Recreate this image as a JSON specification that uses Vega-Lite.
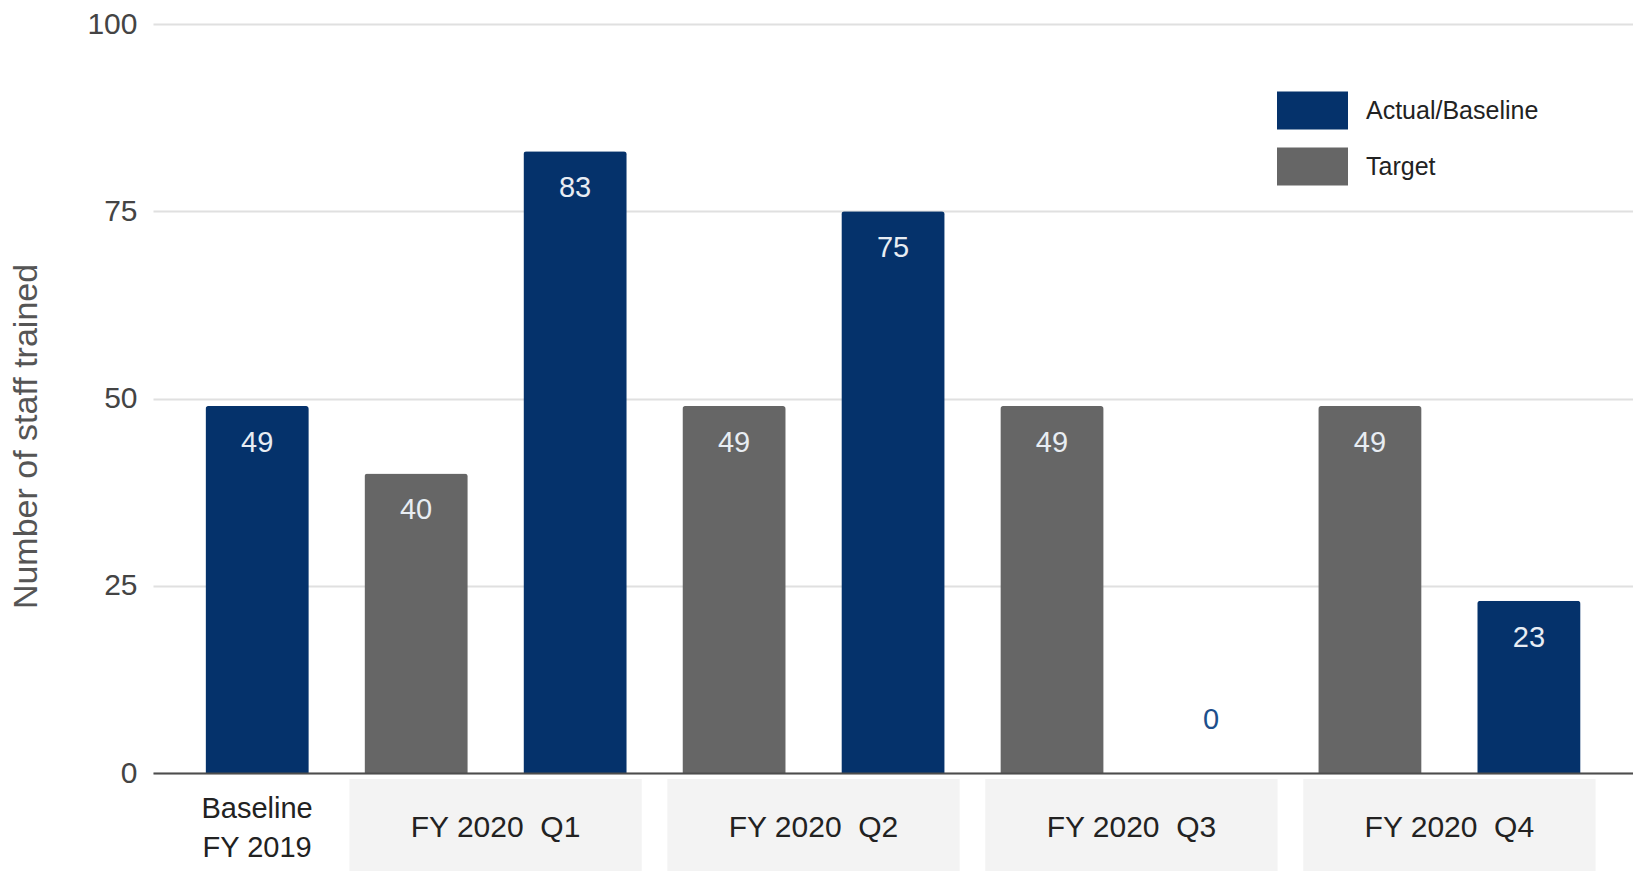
{
  "$schema": "https://vega.github.io/schema/vega-lite/v6.json",
  "width": 1480,
  "height": 749,
  "autosize": "none",
  "padding": {"left": 153, "top": 24, "right": 0, "bottom": 98},
  "background": "white",
  "config": {"font": "Liberation Sans", "view": {"stroke": null}},
  "datasets": {
    "bars": [
      {"slot": "B", "series": "Actual/Baseline", "value": 49},
      {"slot": "Q1T", "series": "Target", "value": 40},
      {"slot": "Q1A", "series": "Actual/Baseline", "value": 83},
      {"slot": "Q2T", "series": "Target", "value": 49},
      {"slot": "Q2A", "series": "Actual/Baseline", "value": 75},
      {"slot": "Q3T", "series": "Target", "value": 49},
      {"slot": "Q3A", "series": "Actual/Baseline", "value": 0},
      {"slot": "Q4T", "series": "Target", "value": 49},
      {"slot": "Q4A", "series": "Actual/Baseline", "value": 23}
    ],
    "groups": [
      {"label": "Baseline\nFY 2019", "first": "B", "last": "B", "kind": "baseline"},
      {"label": "FY 2020 \u00a0Q1", "first": "Q1T", "last": "Q1A", "kind": "quarter"},
      {"label": "FY 2020 \u00a0Q2", "first": "Q2T", "last": "Q2A", "kind": "quarter"},
      {"label": "FY 2020 \u00a0Q3", "first": "Q3T", "last": "Q3A", "kind": "quarter"},
      {"label": "FY 2020 \u00a0Q4", "first": "Q4T", "last": "Q4A", "kind": "quarter"}
    ]
  },
  "layer": [
    {
      "data": {"name": "groups"},
      "transform": [{"filter": "datum.kind == 'quarter'"}],
      "mark": {"type": "rect", "color": "#f3f3f3", "xOffset": -15, "x2Offset": 15},
      "encoding": {
        "x": {"field": "first", "type": "nominal", "bandPosition": 0},
        "x2": {"field": "last", "bandPosition": 1},
        "y": {"datum": -0.8, "type": "quantitative"},
        "y2": {"datum": -13.3}
      }
    },
    {
      "data": {"name": "bars"},
      "mark": {"type": "bar", "cornerRadiusTopLeft": 3, "cornerRadiusTopRight": 3},
      "encoding": {
        "x": {
          "field": "slot", "type": "nominal",
          "scale": {"domain": ["B", "Q1T", "Q1A", "Q2T", "Q2A", "Q3T", "Q3A", "Q4T", "Q4A"], "paddingInner": 0.35, "paddingOuter": 0.33},
          "axis": {"labels": false, "ticks": false, "title": null, "domainColor": "#4d4d4d", "domainWidth": 2, "grid": false}
        },
        "y": {
          "field": "value", "type": "quantitative",
          "scale": {"domain": [0, 100], "nice": false},
          "axis": {
            "values": [0, 25, 50, 75, 100], "ticks": false, "domain": false, "grid": true,
            "gridColor": "#e0e0e0", "gridWidth": 2,
            "labelFontSize": 30, "labelColor": "#444444", "labelPadding": 16,
            "title": "Number of staff trained", "titleFontSize": 34, "titleFontWeight": "normal",
            "titleColor": "#555555", "titleX": -127, "titleY": 412, "titleAngle": 270,
            "titleBaseline": "middle", "titleAlign": "center"
          }
        },
        "color": {
          "field": "series", "type": "nominal",
          "scale": {"domain": ["Actual/Baseline", "Target"], "range": ["#05326b", "#666666"]},
          "legend": {
            "title": null, "orient": "none", "legendX": 1124, "legendY": 51,
            "symbolType": "M-1,-0.535H1V0.535H-1Z", "symbolSize": 5041,
            "symbolStrokeWidth": 0, "symbolOpacity": 1, "labelLimit": 400,
            "labelFontSize": 25, "labelColor": "#222222", "labelOffset": 18, "rowPadding": 1
          }
        }
      }
    },
    {
      "data": {"name": "bars"},
      "transform": [{"filter": "datum.value > 0"}],
      "mark": {"type": "text", "baseline": "middle", "dy": 37, "fontSize": 29, "color": "#e8edf3"},
      "encoding": {
        "x": {"field": "slot", "type": "nominal"},
        "y": {"field": "value", "type": "quantitative"},
        "text": {"field": "value", "type": "quantitative"}
      }
    },
    {
      "data": {"name": "bars"},
      "transform": [{"filter": "datum.value == 0"}],
      "mark": {"type": "text", "baseline": "middle", "dy": -53, "fontSize": 29, "color": "#1d4f8b"},
      "encoding": {
        "x": {"field": "slot", "type": "nominal"},
        "y": {"field": "value", "type": "quantitative"},
        "text": {"field": "value", "type": "quantitative"}
      }
    },
    {
      "data": {"name": "groups"},
      "transform": [{"filter": "datum.kind == 'quarter'"}],
      "mark": {"type": "text", "baseline": "middle", "fontSize": 30, "color": "#222222"},
      "encoding": {
        "x": {"field": "first", "type": "nominal", "bandPosition": 1.269},
        "y": {"datum": -7.35, "type": "quantitative"},
        "text": {"field": "label", "type": "nominal"}
      }
    },
    {
      "data": {"name": "groups"},
      "transform": [{"filter": "datum.kind == 'baseline'"}],
      "mark": {"type": "text", "baseline": "middle", "dy": -19, "fontSize": 29, "color": "#222222", "lineBreak": "\n", "lineHeight": 39},
      "encoding": {
        "x": {"field": "first", "type": "nominal", "bandPosition": 0.5},
        "y": {"datum": -7.35, "type": "quantitative"},
        "text": {"field": "label", "type": "nominal"}
      }
    }
  ]
}
